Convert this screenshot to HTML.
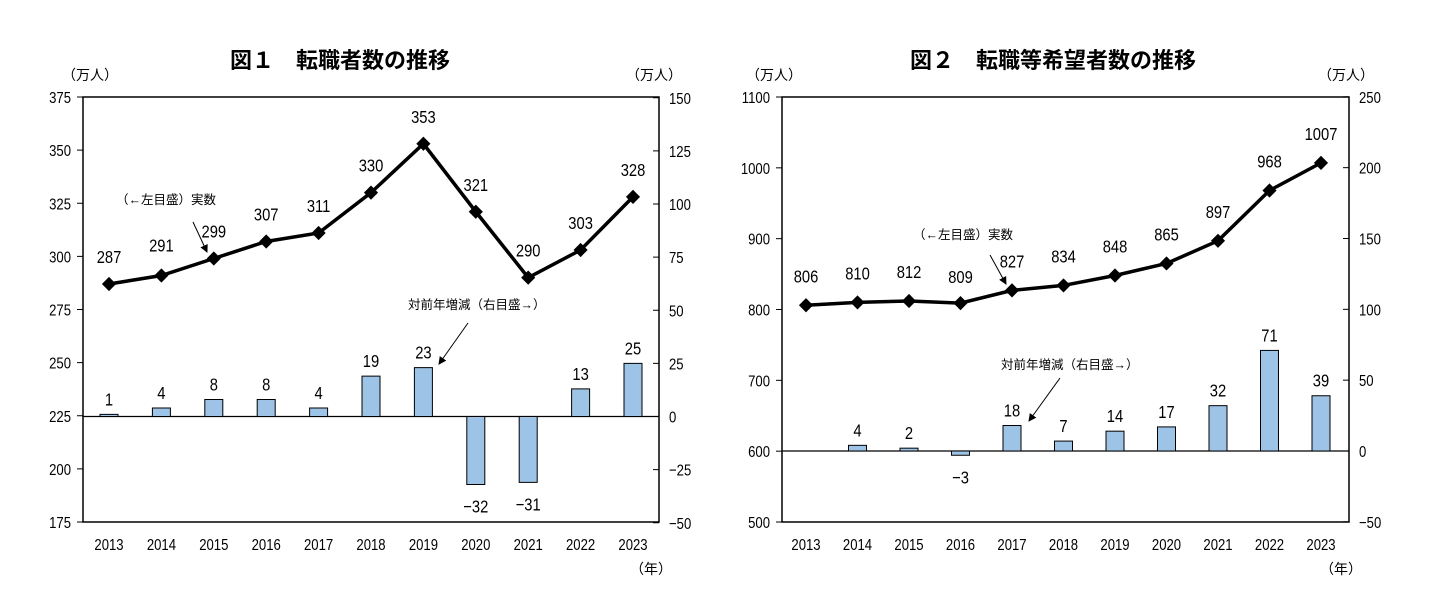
<!DOCTYPE html>
<html><head><meta charset="utf-8"><style>
body{margin:0;background:#fff;width:1440px;height:584px;overflow:hidden}
svg text{font-family:"Liberation Sans","Noto Sans CJK JP",sans-serif;fill:#000}
</style></head><body>
<svg id="s" width="1440" height="584" xmlns="http://www.w3.org/2000/svg">
<defs><marker id="ah" markerWidth="8" markerHeight="8" refX="7" refY="4" orient="auto"><path d="M0,0 L8,4 L0,8 z" fill="#000"/></marker></defs>
<text x="340" y="68" font-size="22" font-weight="bold" text-anchor="middle">図１　転職者数の推移</text>
<text x="1053" y="68" font-size="22" font-weight="bold" text-anchor="middle">図２　転職等希望者数の推移</text>
<text x="62" y="80" font-size="14">（万人）</text>
<text x="626" y="80" font-size="14">（万人）</text>
<text x="746" y="80" font-size="14">（万人）</text>
<text x="1318" y="80" font-size="14">（万人）</text>
<text x="630" y="574" font-size="14">（年）</text>
<text x="1320" y="574" font-size="14">（年）</text>
<text x="116" y="204" font-size="12.5">（←左目盛）実数</text>
<text x="408" y="309" font-size="12.5">対前年増減（右目盛→）</text>
<text x="913" y="239" font-size="12.5">（←左目盛）実数</text>
<text x="1001" y="369" font-size="12.5">対前年増減（右目盛→）</text>
<line x1="193" y1="222" x2="207" y2="252" stroke="#000" stroke-width="1" marker-end="url(#ah)"/>
<line x1="468" y1="323" x2="439" y2="364" stroke="#000" stroke-width="1" marker-end="url(#ah)"/>
<line x1="990" y1="255" x2="1006" y2="284" stroke="#000" stroke-width="1" marker-end="url(#ah)"/>
<line x1="1060" y1="378" x2="1029" y2="421" stroke="#000" stroke-width="1" marker-end="url(#ah)"/>
</svg>
<script>
var s=document.getElementById('s'),NS='http://www.w3.org/2000/svg';
function el(t,a,txt){var e=document.createElementNS(NS,t);for(var k in a)e.setAttribute(k,a[k]);if(txt!=null)e.textContent=txt;s.appendChild(e);return e;}
function tx(x,y,sz,anc,txt){return el('text',{transform:'translate('+x+','+y+') scale(0.82,1)','font-size':sz,'text-anchor':anc},txt);}
function chart(o){
 var L=o.L,R=o.R,T=97,B=522;
 el('rect',{x:L,y:T,width:R-L,height:B-T,fill:'none',stroke:'#000','stroke-width':1.5});
 o.lt.forEach(function(v){var y=o.yL(v);el('line',{x1:L-6,y1:y,x2:L,y2:y,stroke:'#000'});tx(L-12,y+6,16,'end',v);});
 o.rt.forEach(function(v){var y=o.yR(v);el('line',{x1:R-6,y1:y,x2:R,y2:y,stroke:'#000'});tx(R+10,y+6,16,'start',v<0?'\u2212'+(-v):v);});
 var z=o.yR(0);
 el('line',{x1:L,y1:z,x2:R,y2:z,stroke:'#000','stroke-width':1.2});
 for(var i=0;i<11;i++){
  var x=o.x0+o.dx*i;
  tx(x,550,16,'middle',2013+i);
  var b=o.bars[i];
  if(b!==null){var yb=o.yR(b);el('rect',{x:x-9,y:Math.min(yb,z),width:18,height:Math.max(Math.abs(z-yb),1.5),fill:'#9dc3e6',stroke:'#000','stroke-width':1});
   tx(x,b<0?yb+28:yb-9,18,'middle',b<0?'\u2212'+(-b):b);}
 }
 var p=o.line.map(function(v,i){return (o.x0+o.dx*i)+','+o.yL(v);}).join(' ');
 el('polyline',{points:p,fill:'none',stroke:'#000','stroke-width':3.5});
 o.line.forEach(function(v,i){var x=o.x0+o.dx*i,y=o.yL(v);
  el('rect',{x:x-5,y:y-5,width:10,height:10,fill:'#000',transform:'rotate(45 '+x+' '+y+')'});
  tx(x,y-o.off[i],18,'middle',v);});
}
chart({L:83,R:659,x0:109,dx:52.4,
 yL:function(v){return 97+(375-v)*425/200;},yR:function(v){return 416.5-v*2.125;},
 lt:[375,350,325,300,275,250,225,200,175],rt:[150,125,100,75,50,25,0,-25,-50],
 line:[287,291,299,307,311,330,353,321,290,303,328],off:[21,24,21,21,21,21,21,21,21,21,21],
 bars:[1,4,8,8,4,19,23,-32,-31,13,25]});
chart({L:782,R:1349,x0:806,dx:51.5,
 yL:function(v){return 97+(1100-v)*425/600;},yR:function(v){return 451-v*1.4167;},
 lt:[1100,1000,900,800,700,600,500],rt:[250,200,150,100,50,0,-50],
 line:[806,810,812,809,827,834,848,865,897,968,1007],off:[23,23,23,20,23,23,23,23,23,23,23],
 bars:[null,4,2,-3,18,7,14,17,32,71,39]});
</script>
</body></html>
